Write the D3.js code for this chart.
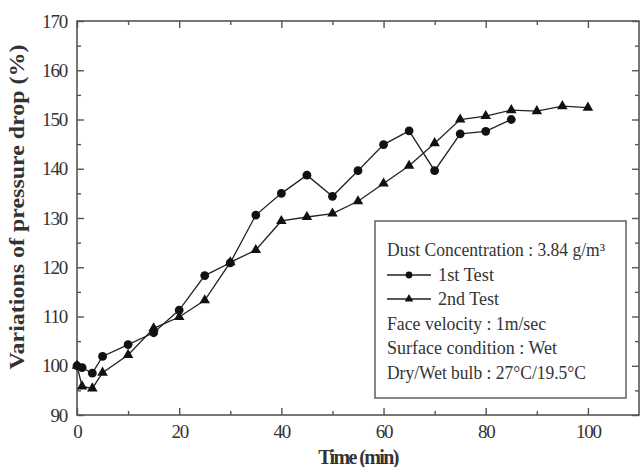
<!DOCTYPE html>
<html><head><meta charset="utf-8">
<script src="https://cdn.jsdelivr.net/npm/d3@7"></script>
<style>
html,body{margin:0;padding:0;background:#fff;}
svg text{font-family:"Liberation Serif","Times New Roman",serif;fill:#333;}
</style></head>
<body><svg id="chart" width="643" height="467"></svg>
<script>
const xTicks = [0, 20, 40, 60, 80, 100];
const yTicks = [90, 100, 110, 120, 130, 140, 150, 160, 170];
const test1X = [0, 1, 3, 5, 10, 15, 20, 25, 30, 35, 40, 45, 50, 55, 60, 65, 70, 75, 80, 85];
const test1Y = [100, 99.6, 98.5, 101.9, 104.3, 106.7, 111.3, 118.3, 120.9, 130.6, 135.0, 138.7, 134.4, 139.6, 144.9, 147.7, 139.6, 147.1, 147.6, 150.0];
const test2X = [0, 1, 3, 5, 10, 15, 20, 25, 30, 35, 40, 45, 50, 55, 60, 65, 70, 75, 80, 85, 90, 95, 100];
const test2Y = [100, 95.8, 95.4, 98.6, 102.2, 107.6, 109.9, 113.3, 121.0, 123.5, 129.4, 130.2, 130.9, 133.4, 137.0, 140.6, 145.2, 150.0, 150.7, 151.9, 151.7, 152.7, 152.4];
const legendLines = ["Dust Concentration : 3.84 g/m\u00B3", "1st Test", "2nd Test", "Face velocity : 1m/sec", "Surface condition : Wet", "Dry/Wet bulb : 27\u00B0C/19.5\u00B0C"];
const xTitle = "Time (min)";
const yTitle = "Variations of pressure drop (%)";

const svg = d3.select("#chart");
const L = 77, R = 639, T = 21, B = 415;
const x = d3.scaleLinear().domain([0, 110]).range([L, R]);
const y = d3.scaleLinear().domain([90, 170]).range([B, T]);
const axisColor = "#555";

// frame
svg.append("rect").attr("x", L).attr("y", T).attr("width", R - L).attr("height", B - T)
  .attr("fill", "none").attr("stroke", axisColor).attr("stroke-width", 1.6);

const xMinor = d3.range(10, 110, 20);
const yMinor = d3.range(95, 170, 10);

function tickStyle(g){
  g.select(".domain").remove();
  g.selectAll(".tick line").attr("stroke", axisColor).attr("stroke-width", 1.4);
}
// bottom major with labels
svg.append("g").attr("transform", `translate(0,${B})`)
  .call(d3.axisBottom(x).tickValues(xTicks).tickSize(-7).tickPadding(10).tickFormat(d3.format("d")))
  .call(tickStyle)
  .call(g => g.selectAll(".tick text").attr("font-size", 19).attr("letter-spacing", -1.2).attr("fill", "#333").attr("font-family", "Liberation Serif"));
svg.append("g").attr("transform", `translate(0,${B})`)
  .call(d3.axisBottom(x).tickValues(xMinor).tickSize(-4).tickFormat("")).call(tickStyle);
// top
svg.append("g").attr("transform", `translate(0,${T})`)
  .call(d3.axisTop(x).tickValues(xTicks).tickSize(-7).tickFormat("")).call(tickStyle);
svg.append("g").attr("transform", `translate(0,${T})`)
  .call(d3.axisTop(x).tickValues(xMinor).tickSize(-4).tickFormat("")).call(tickStyle);
// left
svg.append("g").attr("transform", `translate(${L},0)`)
  .call(d3.axisLeft(y).tickValues(yTicks).tickSize(-7).tickPadding(10).tickFormat(d3.format("d")))
  .call(tickStyle)
  .call(g => g.selectAll(".tick text").attr("font-size", 19).attr("letter-spacing", -1.2).attr("fill", "#333").attr("font-family", "Liberation Serif"));
svg.append("g").attr("transform", `translate(${L},0)`)
  .call(d3.axisLeft(y).tickValues(yMinor).tickSize(-4).tickFormat("")).call(tickStyle);
// right
svg.append("g").attr("transform", `translate(${R},0)`)
  .call(d3.axisRight(y).tickValues(yTicks).tickSize(-7).tickFormat("")).call(tickStyle);
svg.append("g").attr("transform", `translate(${R},0)`)
  .call(d3.axisRight(y).tickValues(yMinor).tickSize(-4).tickFormat("")).call(tickStyle);

// series
const d1 = test1X.map((v, i) => [v, test1Y[i]]);
const d2 = test2X.map((v, i) => [v, test2Y[i]]);
const line = d3.line().x(d => x(d[0])).y(d => y(d[1]));
const ink = "#111";
svg.append("path").datum(d2).attr("d", line).attr("fill", "none").attr("stroke", "#222").attr("stroke-width", 1.3);
svg.append("path").datum(d1).attr("d", line).attr("fill", "none").attr("stroke", "#222").attr("stroke-width", 1.3);
const tri = d3.symbol().type(d3.symbolTriangle).size(48);
svg.append("g").selectAll("path").data(d2).join("path")
  .attr("d", tri).attr("transform", d => `translate(${x(d[0])},${y(d[1])})`).attr("fill", ink);
svg.append("g").selectAll("circle").data(d1).join("circle")
  .attr("cx", d => x(d[0])).attr("cy", d => y(d[1])).attr("r", 4.4).attr("fill", ink);

// legend box
const lg = svg.append("g");
lg.append("rect").attr("x", 375).attr("y", 221).attr("width", 251).attr("height", 177)
  .attr("fill", "#fff").attr("stroke", axisColor).attr("stroke-width", 1.4);
const base = [256, 281, 305, 330, 354, 379];
const widths = [218, 56, 61, 159, 170, 199];
legendLines.forEach((t, i) => {
  const tx = (i === 1 || i === 2) ? 438 : 387;
  lg.append("text").attr("x", tx).attr("y", base[i]).attr("font-size", 18.5)
    .attr("textLength", widths[i]).attr("lengthAdjust", "spacingAndGlyphs").text(t);
});
[1, 2].forEach(i => {
  const cy = base[i] - 6;
  lg.append("line").attr("x1", 387).attr("x2", 431).attr("y1", cy).attr("y2", cy).attr("stroke", "#222").attr("stroke-width", 1.3);
});
lg.append("circle").attr("cx", 409).attr("cy", base[1] - 6).attr("r", 3.4).attr("fill", ink);
lg.append("path").attr("d", d3.symbol().type(d3.symbolTriangle).size(32)).attr("transform", `translate(409,${base[2] - 6})`).attr("fill", ink);

// titles
svg.append("text").attr("x", (L + R) / 2).attr("y", 464).attr("text-anchor", "middle")
  .attr("font-size", 20).attr("font-weight", "bold").attr("letter-spacing", -1.6).attr("fill", "#111").text(xTitle);
svg.append("text").attr("transform", `translate(24,${207}) rotate(-90)`).attr("text-anchor", "middle")
  .attr("font-size", 21).attr("font-weight", "bold").attr("fill", "#111")
  .attr("textLength", 325).attr("lengthAdjust", "spacingAndGlyphs").text(yTitle);
</script></body></html>
